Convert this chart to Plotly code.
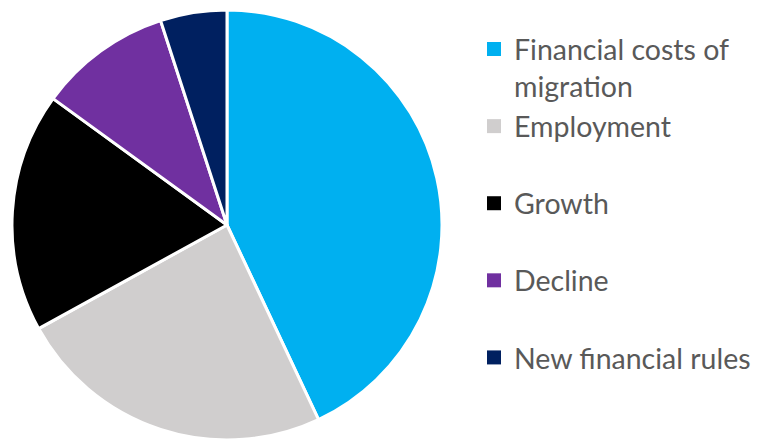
import plotly.graph_objects as go

# Share of responses by theme (percent)
labels = [
    "Financial costs of<br>migration",
    "Employment<br> ",
    "Growth<br> ",
    "Decline<br> ",
    "New financial rules<br> ",
]
shares = [43, 24, 18, 10, 5]
colors = ["#00B0F0", "#D0CECE", "#000000", "#7030A0", "#002060"]

fig = go.Figure()

fig.add_trace(
    go.Pie(
        labels=labels,
        values=shares,
        sort=False,
        direction="clockwise",
        rotation=0,
        textinfo="none",
        hoverinfo="label+percent",
        showlegend=False,
        marker=dict(colors=colors, line=dict(color="#FFFFFF", width=3)),
        domain=dict(x=[12 / 764, 442 / 764], y=[0, 430 / 440]),
    )
)

# Legend keys: square swatches, one per category
for label, color in zip(labels, colors):
    fig.add_trace(
        go.Scatter(
            x=[None],
            y=[None],
            mode="markers",
            name=label,
            marker=dict(symbol="square", size=14, color=color),
            hoverinfo="skip",
        )
    )

fig.update_xaxes(visible=False)
fig.update_yaxes(visible=False)

fig.update_layout(
    width=764,
    height=440,
    margin=dict(l=0, r=0, t=0, b=0),
    paper_bgcolor="#FFFFFF",
    plot_bgcolor="#FFFFFF",
    showlegend=True,
    legend=dict(
        x=474 / 764,
        xanchor="left",
        y=1 - 24 / 440,
        yanchor="top",
        valign="top",
        font=dict(family="Lato, 'Liberation Sans', sans-serif", size=28.5, color="#595959"),
        bgcolor="rgba(0,0,0,0)",
        borderwidth=0,
    ),
)

fig.write_html("out.html")
